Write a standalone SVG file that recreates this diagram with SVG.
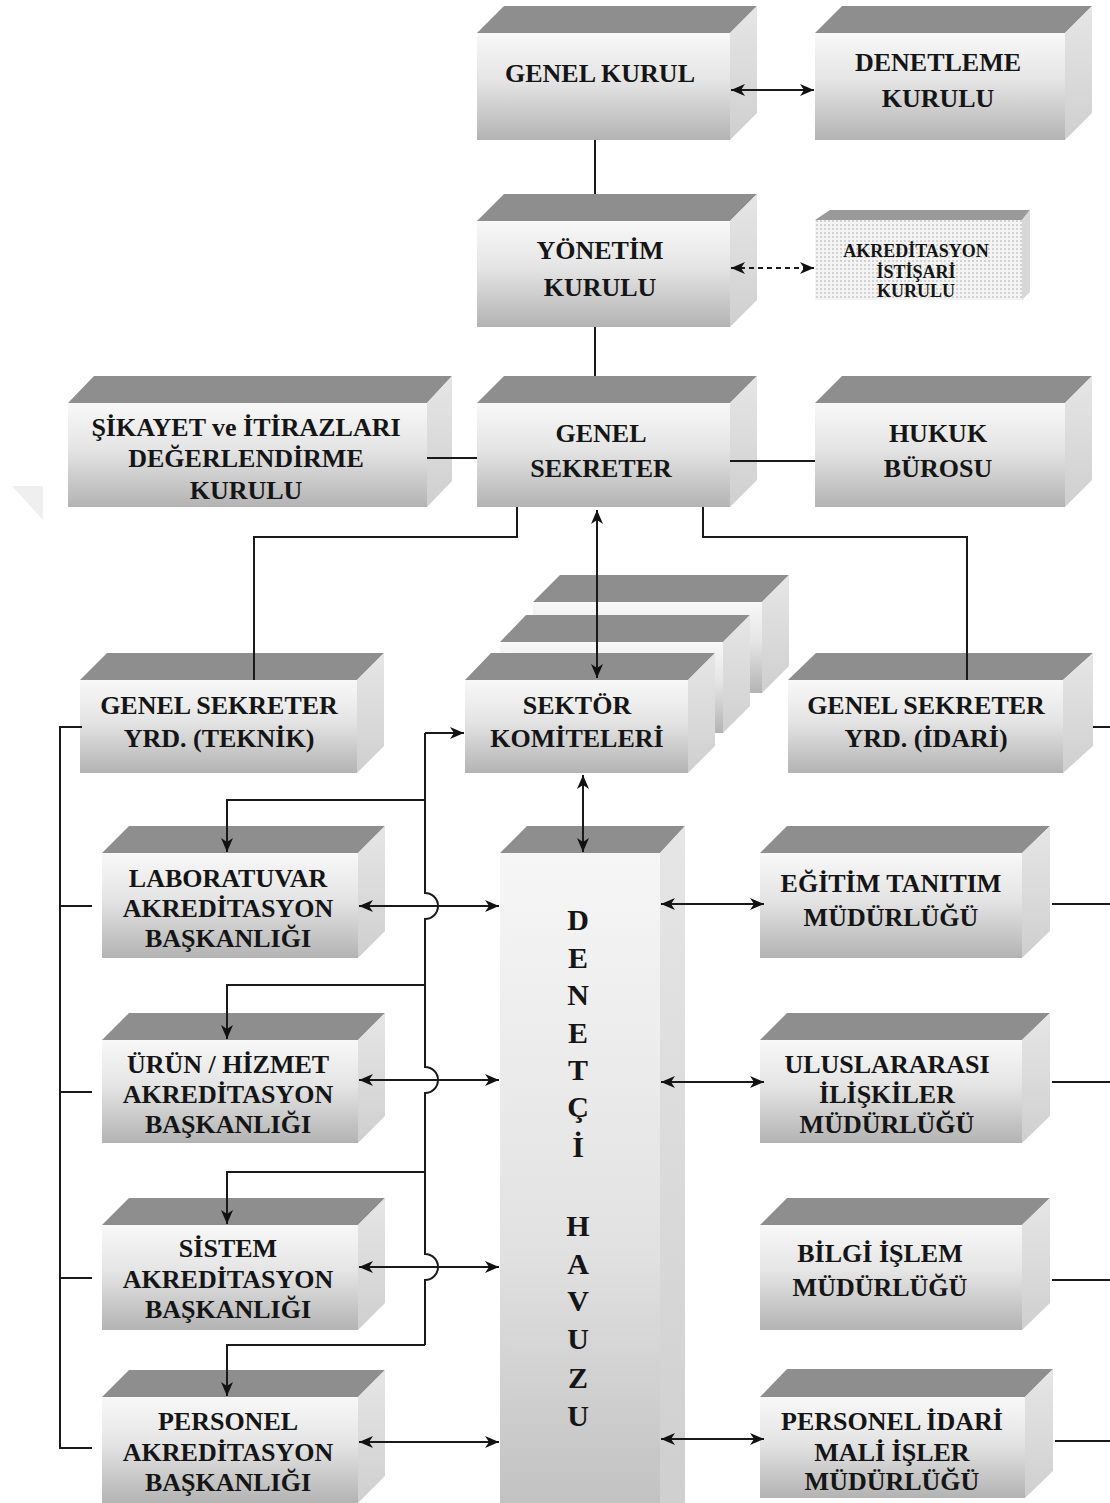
<svg xmlns="http://www.w3.org/2000/svg" width="1110" height="1503" viewBox="0 0 1110 1503">
<defs>
<linearGradient id="fg" x1="0" y1="0" x2="0" y2="1">
<stop offset="0" stop-color="#f8f8f8"/><stop offset="0.45" stop-color="#e4e4e4"/><stop offset="1" stop-color="#b3b3b3"/>
</linearGradient>
<linearGradient id="fgTall" x1="0" y1="0" x2="0" y2="1">
<stop offset="0" stop-color="#f6f6f6"/><stop offset="0.6" stop-color="#e2e2e2"/><stop offset="1" stop-color="#c2c2c2"/>
</linearGradient>
<linearGradient id="sg" x1="0" y1="0" x2="0" y2="1">
<stop offset="0" stop-color="#e6e6e6"/><stop offset="1" stop-color="#cfcfcf"/>
</linearGradient>
<pattern id="dots" width="4" height="4" patternUnits="userSpaceOnUse">
<rect width="4" height="4" fill="#f4f4f4"/><rect x="0" y="0" width="2" height="2" fill="#d2d2d2"/>
</pattern>
<marker id="ah" viewBox="0 0 14 12" refX="14" refY="6" markerWidth="14" markerHeight="12" markerUnits="userSpaceOnUse" orient="auto-start-reverse">
<path d="M0,0 L14,6 L0,12 L4,6 z" fill="#111"/>
</marker>
</defs>
<style>
.top{fill:#8e8e8e}
.side{fill:url(#sg)}
.front{fill:url(#fg)}
.t{font-family:"Liberation Serif","Times New Roman",serif;font-weight:bold;font-size:26px;fill:#151515;text-anchor:middle}
.ts{font-size:18px}
.tv{font-size:30px}
.c{fill:none;stroke:#1a1a1a;stroke-width:2}
.a2{marker-start:url(#ah);marker-end:url(#ah)}
.a1{marker-end:url(#ah)}
</style>
<rect width="1110" height="1503" fill="#ffffff"/>
<polygon points="12,486 43,486 43,520" fill="#efefef"/>

<g id="genel-kurul">
<polygon class="top" points="477,33 504,6 757,6 730,33"/>
<polygon class="side" points="730,33 757,6 757,113 730,140"/>
<rect class="front" x="477" y="33" width="253" height="107"/>
<text class="t" x="600" y="82">GENEL KURUL</text>
</g>
<g id="denetleme-kurulu">
<polygon class="top" points="815,33 842,6 1092,6 1065,33"/>
<polygon class="side" points="1065,33 1092,6 1092,113 1065,140"/>
<rect class="front" x="815" y="33" width="250" height="107"/>
<text class="t" x="938" y="71">DENETLEME</text>
<text class="t" x="938" y="107">KURULU</text>
</g>
<g id="yonetim-kurulu">
<polygon class="top" points="477,221 504,194 757,194 730,221"/>
<polygon class="side" points="730,221 757,194 757,300 730,327"/>
<rect class="front" x="477" y="221" width="253" height="106"/>
<text class="t" x="600" y="259">YÖNETİM</text>
<text class="t" x="600" y="296">KURULU</text>
</g>
<g id="akreditasyon-istisari-kurulu">
<polygon points="815,220 830,210 1030,210 1022,220" fill="#9a9a9a"/>
<polygon points="1022,220 1030,210 1030,292 1022,300" fill="#d8d8d8"/>
<rect x="815" y="220" width="207" height="80" fill="url(#dots)"/>
<text class="t ts" x="916" y="257">AKREDİTASYON</text>
<text class="t ts" x="916" y="278">İSTİŞARİ</text>
<text class="t ts" x="916" y="297">KURULU</text>
</g>
<g id="sikayet-kurulu">
<polygon class="top" points="68,403 94,376 452,376 427,403"/>
<polygon class="side" points="427,403 452,376 452,481 427,507"/>
<rect class="front" x="68" y="403" width="359" height="104"/>
<text class="t" x="246" y="436">ŞİKAYET ve İTİRAZLARI</text>
<text class="t" x="246" y="467">DEĞERLENDİRME</text>
<text class="t" x="246" y="499">KURULU</text>
</g>
<g id="genel-sekreter">
<polygon class="top" points="477,403 504,376 757,376 730,403"/>
<polygon class="side" points="730,403 757,376 757,480 730,507"/>
<rect class="front" x="477" y="403" width="253" height="104"/>
<text class="t" x="601" y="442">GENEL</text>
<text class="t" x="601" y="477">SEKRETER</text>
</g>
<g id="hukuk-burosu">
<polygon class="top" points="815,403 842,376 1092,376 1065,403"/>
<polygon class="side" points="1065,403 1092,376 1092,480 1065,507"/>
<rect class="front" x="815" y="403" width="250" height="104"/>
<text class="t" x="938" y="442">HUKUK</text>
<text class="t" x="938" y="477">BÜROSU</text>
</g>
<g id="gs-yrd-teknik">
<polygon class="top" points="80,680 107,653 384,653 357,680"/>
<polygon class="side" points="357,680 384,653 384,746 357,773"/>
<rect class="front" x="80" y="680" width="277" height="93"/>
<text class="t" x="219" y="714">GENEL SEKRETER</text>
<text class="t" x="219" y="747">YRD. (TEKNİK)</text>
</g>
<g id="sektor-komiteleri">
<polygon class="top" points="533,602 560,575 789,575 762,602"/>
<polygon class="side" points="762,602 789,575 789,666 762,693"/>
<rect class="front" x="533" y="602" width="229" height="91"/>
<polygon class="top" points="500,642 526,615 750,615 723,642"/>
<polygon class="side" points="723,642 750,615 750,706 723,733"/>
<rect class="front" x="500" y="642" width="223" height="91"/>
<polygon class="top" points="465,680 491,653 715,653 688,680"/>
<polygon class="side" points="688,680 715,653 715,746 688,773"/>
<rect class="front" x="465" y="680" width="223" height="93"/>
<text class="t" x="577" y="714">SEKTÖR</text>
<text class="t" x="577" y="747">KOMİTELERİ</text>
</g>
<g id="gs-yrd-idari">
<polygon class="top" points="788,680 816,653 1093,653 1063,680"/>
<polygon class="side" points="1063,680 1093,653 1093,746 1063,773"/>
<rect class="front" x="788" y="680" width="275" height="93"/>
<text class="t" x="926" y="714">GENEL SEKRETER</text>
<text class="t" x="926" y="747">YRD. (İDARİ)</text>
</g>
<g id="laboratuvar">
<polygon class="top" points="102,853 129,826 385,826 358,853"/>
<polygon class="side" points="358,853 385,826 385,931 358,958"/>
<rect class="front" x="102" y="853" width="256" height="105"/>
<text class="t" x="228" y="887">LABORATUVAR</text>
<text class="t" x="228" y="917">AKREDİTASYON</text>
<text class="t" x="228" y="947">BAŞKANLIĞI</text>
</g>
<g id="urun-hizmet">
<polygon class="top" points="102,1040 129,1013 385,1013 358,1040"/>
<polygon class="side" points="358,1040 385,1013 385,1116 358,1143"/>
<rect class="front" x="102" y="1040" width="256" height="103"/>
<text class="t" x="228" y="1073">ÜRÜN / HİZMET</text>
<text class="t" x="228" y="1103">AKREDİTASYON</text>
<text class="t" x="228" y="1133">BAŞKANLIĞI</text>
</g>
<g id="sistem">
<polygon class="top" points="102,1225 129,1198 385,1198 358,1225"/>
<polygon class="side" points="358,1225 385,1198 385,1303 358,1330"/>
<rect class="front" x="102" y="1225" width="256" height="105"/>
<text class="t" x="228" y="1257">SİSTEM</text>
<text class="t" x="228" y="1288">AKREDİTASYON</text>
<text class="t" x="228" y="1318">BAŞKANLIĞI</text>
</g>
<g id="personel-akreditasyon">
<polygon class="top" points="102,1397 129,1370 385,1370 358,1397"/>
<polygon class="side" points="358,1397 385,1370 385,1476 358,1503"/>
<rect class="front" x="102" y="1397" width="256" height="106"/>
<text class="t" x="228" y="1430">PERSONEL</text>
<text class="t" x="228" y="1461">AKREDİTASYON</text>
<text class="t" x="228" y="1491">BAŞKANLIĞI</text>
</g>
<g id="denetci-havuzu">
<polygon class="top" points="500,853 527,826 685,826 660,853"/>
<polygon class="side" points="660,853 685,826 685,1503 660,1503"/>
<rect x="500" y="853" width="160" height="650" fill="url(#fgTall)"/>
<text class="t tv" x="578" y="930">D</text>
<text class="t tv" x="578" y="968">E</text>
<text class="t tv" x="578" y="1005">N</text>
<text class="t tv" x="578" y="1043">E</text>
<text class="t tv" x="578" y="1080">T</text>
<text class="t tv" x="578" y="1117">Ç</text>
<text class="t tv" x="578" y="1157">İ</text>
<text class="t tv" x="578" y="1236">H</text>
<text class="t tv" x="578" y="1274">A</text>
<text class="t tv" x="578" y="1311">V</text>
<text class="t tv" x="578" y="1349">U</text>
<text class="t tv" x="578" y="1388">Z</text>
<text class="t tv" x="578" y="1426">U</text>
</g>
<g id="egitim-tanitim">
<polygon class="top" points="760,853 787,826 1050,826 1022,853"/>
<polygon class="side" points="1022,853 1050,826 1050,931 1022,958"/>
<rect class="front" x="760" y="853" width="262" height="105"/>
<text class="t" x="891" y="892">EĞİTİM TANITIM</text>
<text class="t" x="891" y="926">MÜDÜRLÜĞÜ</text>
</g>
<g id="uluslararasi">
<polygon class="top" points="760,1040 787,1013 1050,1013 1022,1040"/>
<polygon class="side" points="1022,1040 1050,1013 1050,1116 1022,1143"/>
<rect class="front" x="760" y="1040" width="262" height="103"/>
<text class="t" x="887" y="1073">ULUSLARARASI</text>
<text class="t" x="887" y="1103">İLİŞKİLER</text>
<text class="t" x="887" y="1133">MÜDÜRLÜĞÜ</text>
</g>
<g id="bilgi-islem">
<polygon class="top" points="760,1225 787,1198 1050,1198 1022,1225"/>
<polygon class="side" points="1022,1225 1050,1198 1050,1303 1022,1330"/>
<rect class="front" x="760" y="1225" width="262" height="105"/>
<text class="t" x="880" y="1262">BİLGİ İŞLEM</text>
<text class="t" x="880" y="1296">MÜDÜRLÜĞÜ</text>
</g>
<g id="personel-idari">
<polygon class="top" points="760,1397 787,1369 1053,1369 1025,1397"/>
<polygon class="side" points="1025,1397 1053,1369 1053,1471 1025,1498"/>
<rect class="front" x="760" y="1397" width="265" height="101"/>
<text class="t" x="892" y="1430">PERSONEL İDARİ</text>
<text class="t" x="892" y="1461">MALİ İŞLER</text>
<text class="t" x="892" y="1490">MÜDÜRLÜĞÜ</text>
</g>

<g id="connectors">
<path class="c" d="M595,140 V194"/>
<path class="c a2" d="M731,90 H814"/>
<path class="c a2" d="M731,268 H814" stroke-dasharray="5,4"/>
<path class="c" d="M595,327 V376"/>
<path class="c" d="M427,458 H477"/>
<path class="c" d="M730,461 H815"/>
<path class="c" d="M517,507 V537 H254 V680"/>
<path class="c" d="M703,507 V537 H967 V680"/>
<path class="c a2" d="M597,510 V678"/>
<path class="c" d="M1093,727 H1110"/>
<path class="c" d="M82,727 H60 V1448 H92"/>
<path class="c" d="M60,906 H92"/>
<path class="c" d="M60,1092 H92"/>
<path class="c" d="M60,1278 H92"/>
<path class="c" d="M425,733 V893 A13,13 0 0 1 425,919 V1067 A13,13 0 0 1 425,1093 V1254 A13,13 0 0 1 425,1280 V1345"/>
<path class="c a1" d="M425,733 H464"/>
<path class="c a1" d="M425,800 H227 V852"/>
<path class="c a1" d="M425,985 H227 V1039"/>
<path class="c a1" d="M425,1172 H227 V1224"/>
<path class="c a1" d="M425,1345 H227 V1396"/>
<path class="c a2" d="M359,906 H499"/>
<path class="c a2" d="M359,1080 H499"/>
<path class="c a2" d="M359,1267 H499"/>
<path class="c a2" d="M359,1442 H499"/>
<path class="c a2" d="M583,775 V852"/>
<path class="c a2" d="M661,904 H764"/>
<path class="c a2" d="M661,1082 H764"/>
<path class="c a2" d="M661,1439 H764"/>
<path class="c" d="M1052,904 H1110"/>
<path class="c" d="M1052,1082 H1110"/>
<path class="c" d="M1052,1280 H1110"/>
<path class="c" d="M1055,1441 H1110"/>
</g>
</svg>
